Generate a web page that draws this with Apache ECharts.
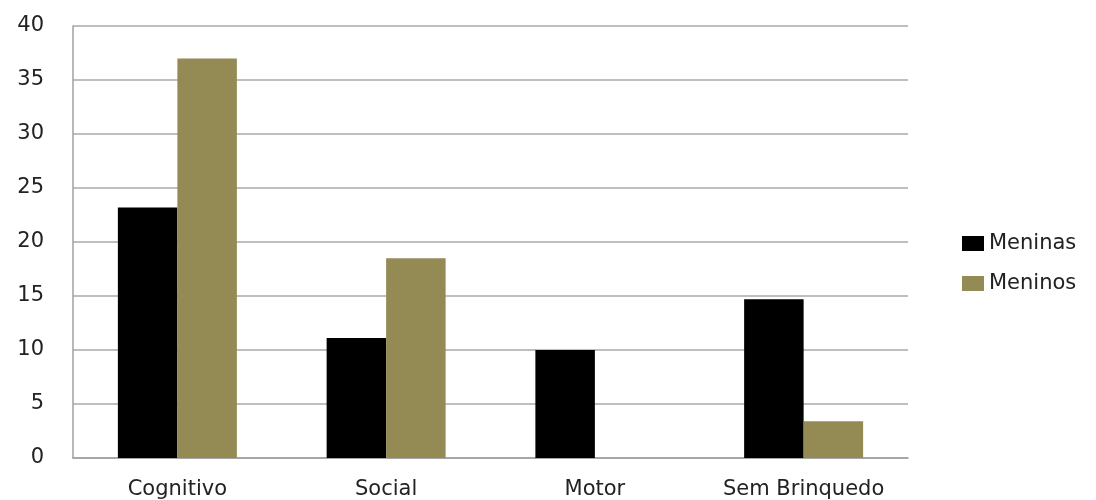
<!DOCTYPE html>
<html>
<head>
<meta charset="utf-8">
<script src="https://cdn.jsdelivr.net/npm/echarts@6/dist/echarts.min.js"></script>
<style>
html,body{margin:0;padding:0;background:#fff;}
#chart{width:1096px;height:500px;}
</style>
</head>
<body>
<div id="chart"></div>
<script>
// Tipos de brinquedo por grupo
const categories = ['Cognitivo', 'Social', 'Motor', 'Sem Brinquedo'];
const meninas = [23.2, 11.1, 10.0, 14.7];
const meninos = [37.0, 18.5, 0, 3.4];
const seriesNames = ['Meninas', 'Meninos'];

const font = '"DejaVu Sans", "Open Sans", sans-serif';
const chart = echarts.init(document.getElementById('chart'));
chart.setOption({
  animation: false,
  backgroundColor: '#ffffff',
  textStyle: { fontFamily: font },
  grid: { left: 73, right: 188, top: 26, bottom: 41 },
  legend: {
    orient: 'vertical',
    left: 957,
    top: 228,
    itemWidth: 22,
    itemHeight: 15,
    itemGap: 19,
    icon: 'rect',
    textStyle: { fontFamily: font, fontSize: 21, color: '#222' },
    data: seriesNames
  },
  xAxis: {
    type: 'category',
    data: categories,
    axisLine: { lineStyle: { color: '#a0a0a0', width: 1.5 } },
    axisTick: { show: false },
    axisLabel: { interval: 0, hideOverlap: false, fontFamily: font, fontSize: 21, color: '#222', margin: 21 }
  },
  yAxis: {
    type: 'value',
    min: 0,
    max: 40,
    interval: 5,
    axisLine: { show: true, lineStyle: { color: '#a0a0a0', width: 1.5 } },
    axisTick: { show: false },
    splitLine: { lineStyle: { color: '#a8a8a8', width: 1.5 } },
    axisLabel: { fontFamily: font, fontSize: 21, color: '#222', margin: 29 }
  },
  series: [
    {
      name: seriesNames[0],
      type: 'bar',
      data: meninas,
      barGap: '0%',
      barCategoryGap: '43%',
      itemStyle: { color: '#000000' }
    },
    {
      name: seriesNames[1],
      type: 'bar',
      data: meninos,
      barGap: '0%',
      barCategoryGap: '43%',
      itemStyle: { color: '#948a54' }
    }
  ]
});
</script>
</body>
</html>
